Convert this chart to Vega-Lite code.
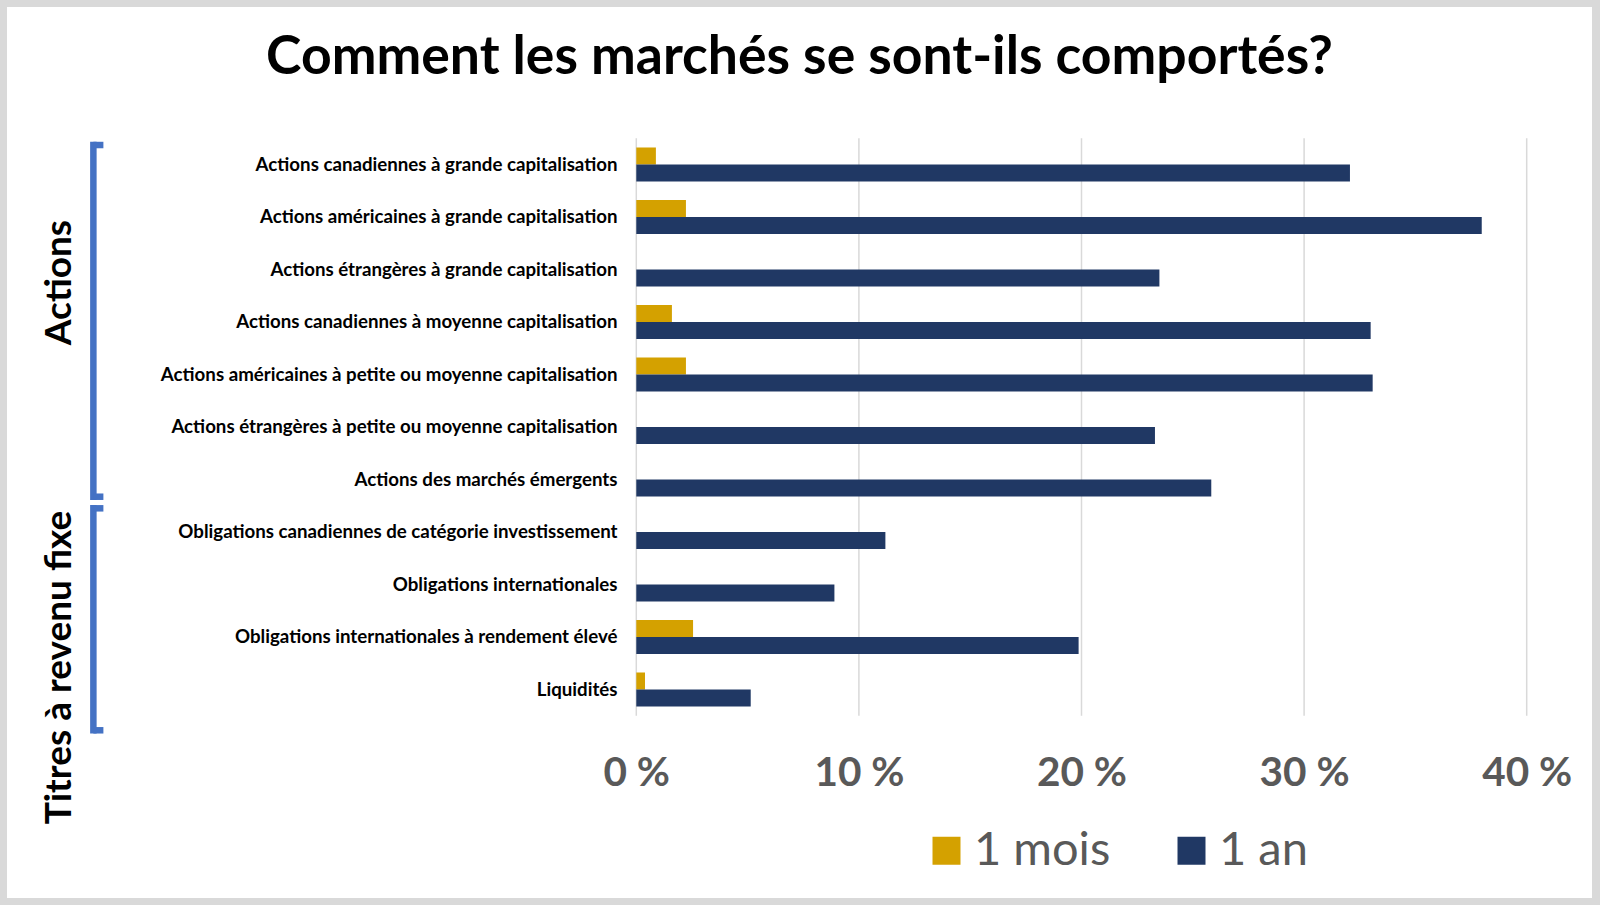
{
  "$schema": "https://vega.github.io/schema/vega-lite/v6.json",
  "width": 1585,
  "height": 891,
  "autosize": {"type": "none"},
  "padding": {"left": 7, "top": 7, "right": 8, "bottom": 7},
  "background": "#d9d9d9",
  "config": {"view": {"fill": "white", "stroke": null}, "font": "Lato"},
  "title": {
    "text": "Comment les marchés se sont-ils comportés?",
    "font": "Lato",
    "fontSize": 53.5,
    "fontWeight": "bold",
    "color": "#000000",
    "anchor": "middle",
    "baseline": "alphabetic",
    "offset": -120
  },
  "datasets": {
    "bars": [
      {"cat": "Actions canadiennes à grande capitalisation", "period": "1 mois", "value": 0.88},
      {"cat": "Actions canadiennes à grande capitalisation", "period": "1 an", "value": 32.06},
      {"cat": "Actions américaines à grande capitalisation", "period": "1 mois", "value": 2.23},
      {"cat": "Actions américaines à grande capitalisation", "period": "1 an", "value": 37.98},
      {"cat": "Actions étrangères à grande capitalisation", "period": "1 mois", "value": 0},
      {"cat": "Actions étrangères à grande capitalisation", "period": "1 an", "value": 23.5},
      {"cat": "Actions canadiennes à moyenne capitalisation", "period": "1 mois", "value": 1.6},
      {"cat": "Actions canadiennes à moyenne capitalisation", "period": "1 an", "value": 32.99},
      {"cat": "Actions américaines à petite ou moyenne capitalisation", "period": "1 mois", "value": 2.23},
      {"cat": "Actions américaines à petite ou moyenne capitalisation", "period": "1 an", "value": 33.08},
      {"cat": "Actions étrangères à petite ou moyenne capitalisation", "period": "1 mois", "value": 0},
      {"cat": "Actions étrangères à petite ou moyenne capitalisation", "period": "1 an", "value": 23.3},
      {"cat": "Actions des marchés émergents", "period": "1 mois", "value": 0},
      {"cat": "Actions des marchés émergents", "period": "1 an", "value": 25.83},
      {"cat": "Obligations canadiennes de catégorie investissement", "period": "1 mois", "value": 0},
      {"cat": "Obligations canadiennes de catégorie investissement", "period": "1 an", "value": 11.19},
      {"cat": "Obligations internationales", "period": "1 mois", "value": 0},
      {"cat": "Obligations internationales", "period": "1 an", "value": 8.9},
      {"cat": "Obligations internationales à rendement élevé", "period": "1 mois", "value": 2.55},
      {"cat": "Obligations internationales à rendement élevé", "period": "1 an", "value": 19.87},
      {"cat": "Liquidités", "period": "1 mois", "value": 0.39},
      {"cat": "Liquidités", "period": "1 an", "value": 5.14}
    ],
    "grid": [{"v": 0}, {"v": 10}, {"v": 20}, {"v": 30}, {"v": 40}],
    "groups": [
      {"group": "Actions", "top": 0.128, "bottom": 6.827, "labelY": 2.747},
      {"group": "Titres à revenu fixe", "top": 7.048, "bottom": 11.276, "labelY": 10.08}
    ]
  },
  "resolve": {"scale": {"y": "independent"}},
  "layer": [
    {
      "data": {"name": "grid"},
      "mark": {"type": "rule", "color": "#d9d9d9", "strokeWidth": 1.5},
      "encoding": {
        "x": {
          "field": "v", "type": "quantitative", "title": null,
          "scale": {"domain": [0, 40], "range": [629.3, 1519.7], "nice": false, "zero": false},
          "axis": {
            "orient": "bottom", "offset": -125, "values": [0, 10, 20, 30, 40],
            "labelExpr": "datum.value + ' %'", "domain": false, "ticks": false, "tickSize": 0,
            "grid": false, "labelPadding": 0, "labelBaseline": "middle", "labelFont": "Lato",
            "labelFontSize": 40.5, "labelFontWeight": "bold", "labelColor": "#595959",
            "labelFlush": false, "labelOverlap": false, "title": null
          }
        },
        "y": {"datum": 0, "type": "quantitative", "scale": {"domain": [0, 11], "range": [131.3, 708.8], "nice": false, "zero": false}, "axis": null},
        "y2": {"datum": 11}
      }
    },
    {
      "data": {"name": "bars"},
      "mark": {"type": "bar"},
      "encoding": {
        "y": {
          "field": "cat", "type": "nominal", "sort": null, "title": null,
          "scale": {"range": [131.3, 708.8], "paddingInner": 0.35, "paddingOuter": 0.175},
          "axis": {
            "orient": "left", "offset": -610, "domain": false, "ticks": false, "tickSize": 0,
            "labelPadding": 0, "labelFont": "Lato", "labelFontSize": 18.7, "labelFontWeight": "bold",
            "labelColor": "#000000", "labelLimit": 0, "grid": false, "title": null
          }
        },
        "yOffset": {"field": "period", "type": "nominal", "sort": ["1 mois", "1 an"], "scale": {"paddingInner": 0, "paddingOuter": 0}},
        "x": {"field": "value", "type": "quantitative", "title": null,
          "scale": {"domain": [0, 40], "range": [629.3, 1519.7], "nice": false, "zero": false}},
        "color": {
          "field": "period", "type": "nominal",
          "scale": {"domain": ["1 mois", "1 an"], "range": ["#D4A100", "#203864"]},
          "legend": {
            "orient": "none", "legendX": 916, "legendY": 820, "direction": "horizontal",
            "title": null, "symbolType": "square", "symbolSize": 784, "symbolStrokeWidth": 0,
            "symbolOpacity": 1, "labelFont": "Lato", "labelFontSize": 47, "labelColor": "#595959",
            "labelOffset": 4, "columnPadding": 57, "padding": 0, "labelLimit": 0
          }
        }
      }
    },
    {
      "data": {"name": "groups"},
      "mark": {"type": "rule", "color": "#4472C4", "strokeWidth": 6.5, "strokeCap": "square"},
      "encoding": {
        "x": {"datum": -24.39, "type": "quantitative", "title": null,
          "scale": {"domain": [0, 40], "range": [629.3, 1519.7], "nice": false, "zero": false}},
        "y": {"field": "top", "type": "quantitative", "scale": {"domain": [0, 11], "range": [131.3, 708.8], "nice": false, "zero": false}, "axis": null},
        "y2": {"field": "bottom"}
      }
    },
    {
      "data": {"name": "groups"},
      "mark": {"type": "rule", "color": "#4472C4", "strokeWidth": 6.5, "strokeCap": "butt"},
      "encoding": {
        "x": {"datum": -24.39, "type": "quantitative", "title": null,
          "scale": {"domain": [0, 40], "range": [629.3, 1519.7], "nice": false, "zero": false}},
        "x2": {"datum": -23.94},
        "y": {"field": "top", "type": "quantitative", "scale": {"domain": [0, 11], "range": [131.3, 708.8], "nice": false, "zero": false}, "axis": null}
      }
    },
    {
      "data": {"name": "groups"},
      "mark": {"type": "rule", "color": "#4472C4", "strokeWidth": 6.5, "strokeCap": "butt"},
      "encoding": {
        "x": {"datum": -24.39, "type": "quantitative", "title": null,
          "scale": {"domain": [0, 40], "range": [629.3, 1519.7], "nice": false, "zero": false}},
        "x2": {"datum": -23.94},
        "y": {"field": "bottom", "type": "quantitative", "scale": {"domain": [0, 11], "range": [131.3, 708.8], "nice": false, "zero": false}, "axis": null}
      }
    },
    {
      "data": {"name": "groups"},
      "mark": {"type": "text", "angle": 270, "align": "center", "baseline": "alphabetic", "font": "Lato", "fontSize": 37, "fontWeight": "bold", "color": "#000000"},
      "encoding": {
        "x": {"datum": -25.4, "type": "quantitative", "title": null,
          "scale": {"domain": [0, 40], "range": [629.3, 1519.7], "nice": false, "zero": false}},
        "y": {"field": "labelY", "type": "quantitative", "scale": {"domain": [0, 11], "range": [131.3, 708.8], "nice": false, "zero": false}, "axis": null},
        "text": {"field": "group"}
      }
    }
  ]
}
